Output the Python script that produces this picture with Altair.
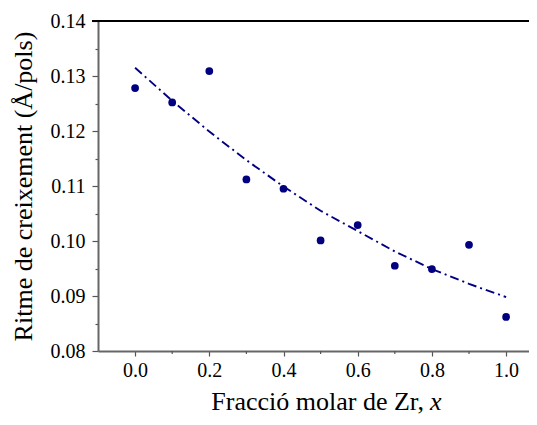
import altair as alt
import pandas as pd

# measured data
x_vals = [0.0, 0.1, 0.2, 0.3, 0.4, 0.5, 0.6, 0.7, 0.8, 0.9, 1.0]
rate_vals = [0.1278, 0.1252, 0.1309, 0.1112, 0.1095, 0.1001, 0.1029, 0.0955, 0.0949, 0.0993, 0.0862]

# fitted (dash-dot) curve
fit_x = [0.0, 0.1, 0.2, 0.3, 0.4, 0.5, 0.6, 0.7, 0.8, 0.9, 1.0]
fit_y = [0.1315, 0.1255, 0.1199, 0.1147, 0.1099, 0.1055, 0.1018, 0.0981, 0.0949, 0.0922, 0.0898]

x_major = [0.0, 0.2, 0.4, 0.6, 0.8, 1.0]
x_minor = [0.1, 0.3, 0.5, 0.7, 0.9]
y_ticks = [0.08, 0.085, 0.09, 0.095, 0.10, 0.105, 0.11, 0.115, 0.12, 0.125, 0.13, 0.135, 0.14]

x_title = "Fracció molar de Zr,"
x_title_var = "x"
y_title = "Ritme de creixement (Å/pols)"

pts = pd.DataFrame({"x": x_vals, "y": rate_vals})
fit = pd.DataFrame({"x": fit_x, "y": fit_y})
minor_df = pd.DataFrame({"x": x_minor})

FONT = "Liberation Serif"
COL = "#000080"
W, H = 431, 330

xscale = alt.Scale(domain=[-0.1, 1.0617], nice=False, zero=False)
yscale = alt.Scale(domain=[0.08, 0.14], nice=False, zero=False)

xaxis = alt.Axis(
    values=x_major, format=".1f",
    tickSize=5, tickColor="#555555", tickWidth=1.2,
    domainColor="#666666", domainWidth=2,
    labelFont=FONT, labelFontSize=20, labelColor="black", labelPadding=4,
    labelOverlap=False, labelFlush=False,
    grid=False, title=None,
)
yaxis = alt.Axis(
    values=y_ticks,
    labelExpr="round(datum.value*1000) % 10 == 0 ? format(datum.value, '.2f') : ''",
    tickSize={"condition": {"test": "round(datum.value*1000) % 10 == 0", "value": 6}, "value": 3},
    tickColor="#555555", tickWidth=1.2,
    domainColor="#666666", domainWidth=2,
    labelFont=FONT, labelFontSize=20, labelColor="black", labelPadding=7,
    labelOverlap=False, labelFlush=False,
    grid=False, title=y_title, titleFont=FONT, titleFontSize=26,
    titleFontWeight="normal", titleColor="black", titlePadding=14,
)

line = alt.Chart(fit).mark_line(
    color=COL, strokeWidth=1.9, strokeDash=[9, 4, 2, 4], clip=True
).encode(x=alt.X("x:Q", scale=xscale, axis=xaxis), y=alt.Y("y:Q", scale=yscale, axis=yaxis))

points = alt.Chart(pts).mark_circle(color=COL, opacity=1, size=60).encode(
    x=alt.X("x:Q", scale=xscale, axis=xaxis), y=alt.Y("y:Q", scale=yscale, axis=yaxis)
)

minor = alt.Chart(minor_df).mark_rule(color="#555555", strokeWidth=1.2).encode(
    x=alt.X("x:Q", scale=xscale, axis=xaxis), y=alt.value(H), y2=alt.value(H + 3)
)

top = alt.Chart(pts).mark_rule(color="black", strokeWidth=1).encode(
    x=alt.value(-6), x2=alt.value(W), y=alt.value(0)
)

title_df = pd.DataFrame({"t": [x_title]})
t1 = alt.Chart(title_df).mark_text(
    font=FONT, fontSize=26, align="right", baseline="alphabetic", color="black"
).encode(text="t:N", x=alt.value(326), y=alt.value(389))
title_df2 = pd.DataFrame({"t": [x_title_var]})
t2 = alt.Chart(title_df2).mark_text(
    font=FONT, fontSize=26, fontStyle="italic", align="left", baseline="alphabetic", color="black"
).encode(text="t:N", x=alt.value(332), y=alt.value(389))

chart = alt.layer(line, points, minor, top, t1, t2).properties(
    width=W, height=H,
    autosize=alt.AutoSizeParams(type="none"),
    padding={"left": 90, "top": 13, "right": 0, "bottom": 66},
).configure_view(stroke="transparent")

chart.save("out.html", embed_options={"renderer": "svg", "actions": False})
